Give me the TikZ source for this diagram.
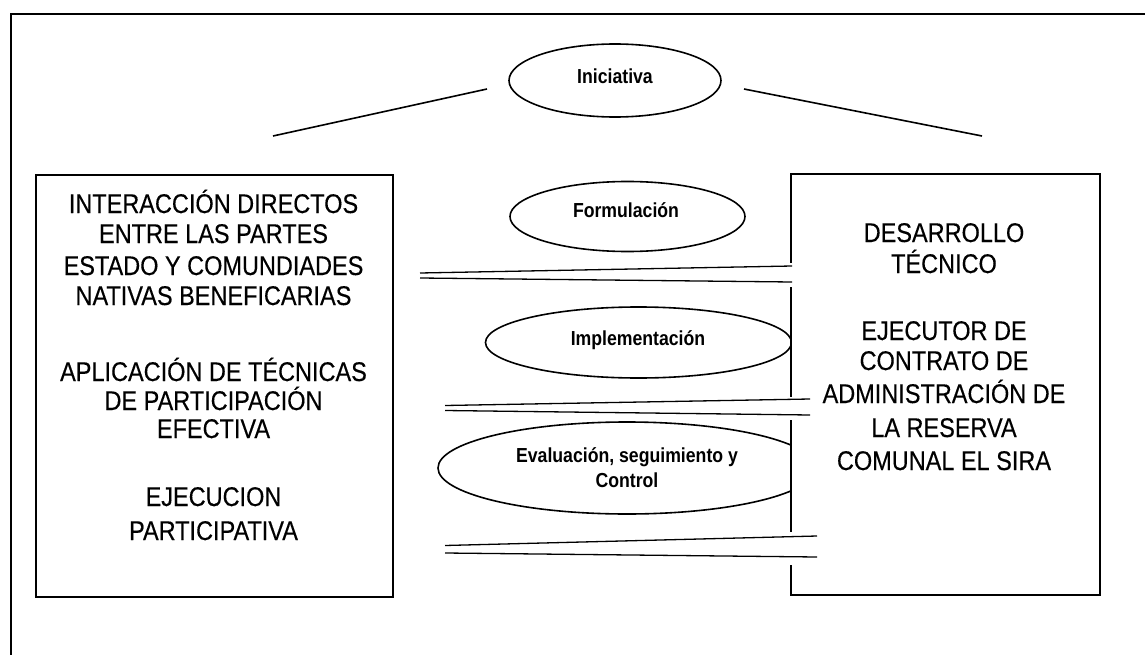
\documentclass[tikz,border=0pt]{standalone}
\usepackage{fontspec}
\setmainfont{Liberation Sans}[FakeStretch=0.87, UprightFeatures={FakeBold=0.3}]
\usetikzlibrary{shapes.geometric}
\begin{document}
\begin{tikzpicture}[x=1pt,y=-1pt,
  oval/.style={ellipse, draw, line width=1.6pt, inner sep=0pt},
  ovaltext/.style={font=\fontsize{20.3}{25}\selectfont\bfseries, inner sep=0pt, anchor=base},
  panel/.style={inner sep=0pt, anchor=north west, fill=white},
  bodytext/.style={font=\fontsize{27}{32}\selectfont, inner sep=0pt, anchor=base},
  rim/.style={line width=1.7pt},
  link/.style={line width=1.3pt}]
\useasboundingbox (0,0) rectangle (1145,655);
\fill[white] (0,0) rectangle (1145,655);
% outer frame (only top and left visible)
\draw[line width=1.1pt] (11,655) -- (11,14) -- (1145,14);

% left box
\node[panel, draw, rim, minimum width=357pt, minimum height=422pt] (lbox) at (35,174) {};

% ellipses
\node[oval, minimum width=212pt, minimum height=73pt] (ini) at (615,80.5) {};
\node[oval, minimum width=235pt, minimum height=70pt] (form) at (627.5,216.5) {};
\node[oval, minimum width=306pt, minimum height=71pt] (impl) at (638.5,342.5) {};
\node[oval, minimum width=378pt, minimum height=92pt] (eval) at (627,468) {};

% right box (white, covers the evaluation ellipse)
\node[panel, minimum width=309pt, minimum height=421pt] (rbox) at (791,174) {};
\draw[rim] (791,263) -- (791,174) -- (1100,174) -- (1100,595) -- (791,595) -- (791,565);
\draw[rim] (791,287) -- (791,397);
\draw[rim] (791,420) -- (791,532);

% double lines
\coordinate (a1) at (420,273); \coordinate (a2) at (792,266);
\coordinate (b1) at (420,278); \coordinate (b2) at (792,282);
\draw[link] (a1) -- (a2);
\draw[link] (b1) -- (b2);
\coordinate (c1) at (445,405.5); \coordinate (c2) at (810,399);
\coordinate (d1) at (445,410.5); \coordinate (d2) at (810,415);
\draw[link] (c1) -- (c2);
\draw[link] (d1) -- (d2);
\coordinate (e1) at (445,545.5); \coordinate (e2) at (817,536);
\coordinate (f1) at (445,553); \coordinate (f2) at (817,557);
\draw[link] (e1) -- (e2);
\draw[link] (f1) -- (f2);

% diagonal lines beside Iniciativa
\coordinate (gl1) at (273,136); \coordinate (gl2) at (487,89);
\coordinate (gr1) at (744,89); \coordinate (gr2) at (982,136);
\draw[link,line width=1.6pt] (gl1) -- (gl2);
\draw[link,line width=1.6pt] (gr1) -- (gr2);

% ellipse labels
\node[ovaltext] (initxt) at (615,84) {Iniciativa};
\node[ovaltext] (formtxt) at (626,218) {Formulación};
\node[ovaltext] (impltxt) at (638,345) {Implementación};
\node[ovaltext] (evaltxta) at (627,462) {Evaluación, seguimiento y};
\node[ovaltext] (evaltxtb) at (627,487) {Control};

% left box text
\foreach \t/\y [count=\i] in {INTERACCIÓN DIRECTOS/213, ENTRE LAS PARTES/243, ESTADO Y COMUNDIADES/275, NATIVAS BENEFICARIAS/305, APLICACIÓN DE TÉCNICAS/381, DE PARTICIPACIÓN/410, EFECTIVA/438, EJECUCION/506, PARTICIPATIVA/540}
  \node[bodytext] (lt\i) at (213.5,\y) {\t};

% right box text
\foreach \t/\y [count=\i] in {DESARROLLO/242, TÉCNICO/273, EJECUTOR DE/340, CONTRATO DE/370, ADMINISTRACIÓN DE/403, LA RESERVA/437, COMUNAL EL SIRA/470}
  \node[bodytext] (rt\i) at (944,\y) {\t};
\end{tikzpicture}
\end{document}
